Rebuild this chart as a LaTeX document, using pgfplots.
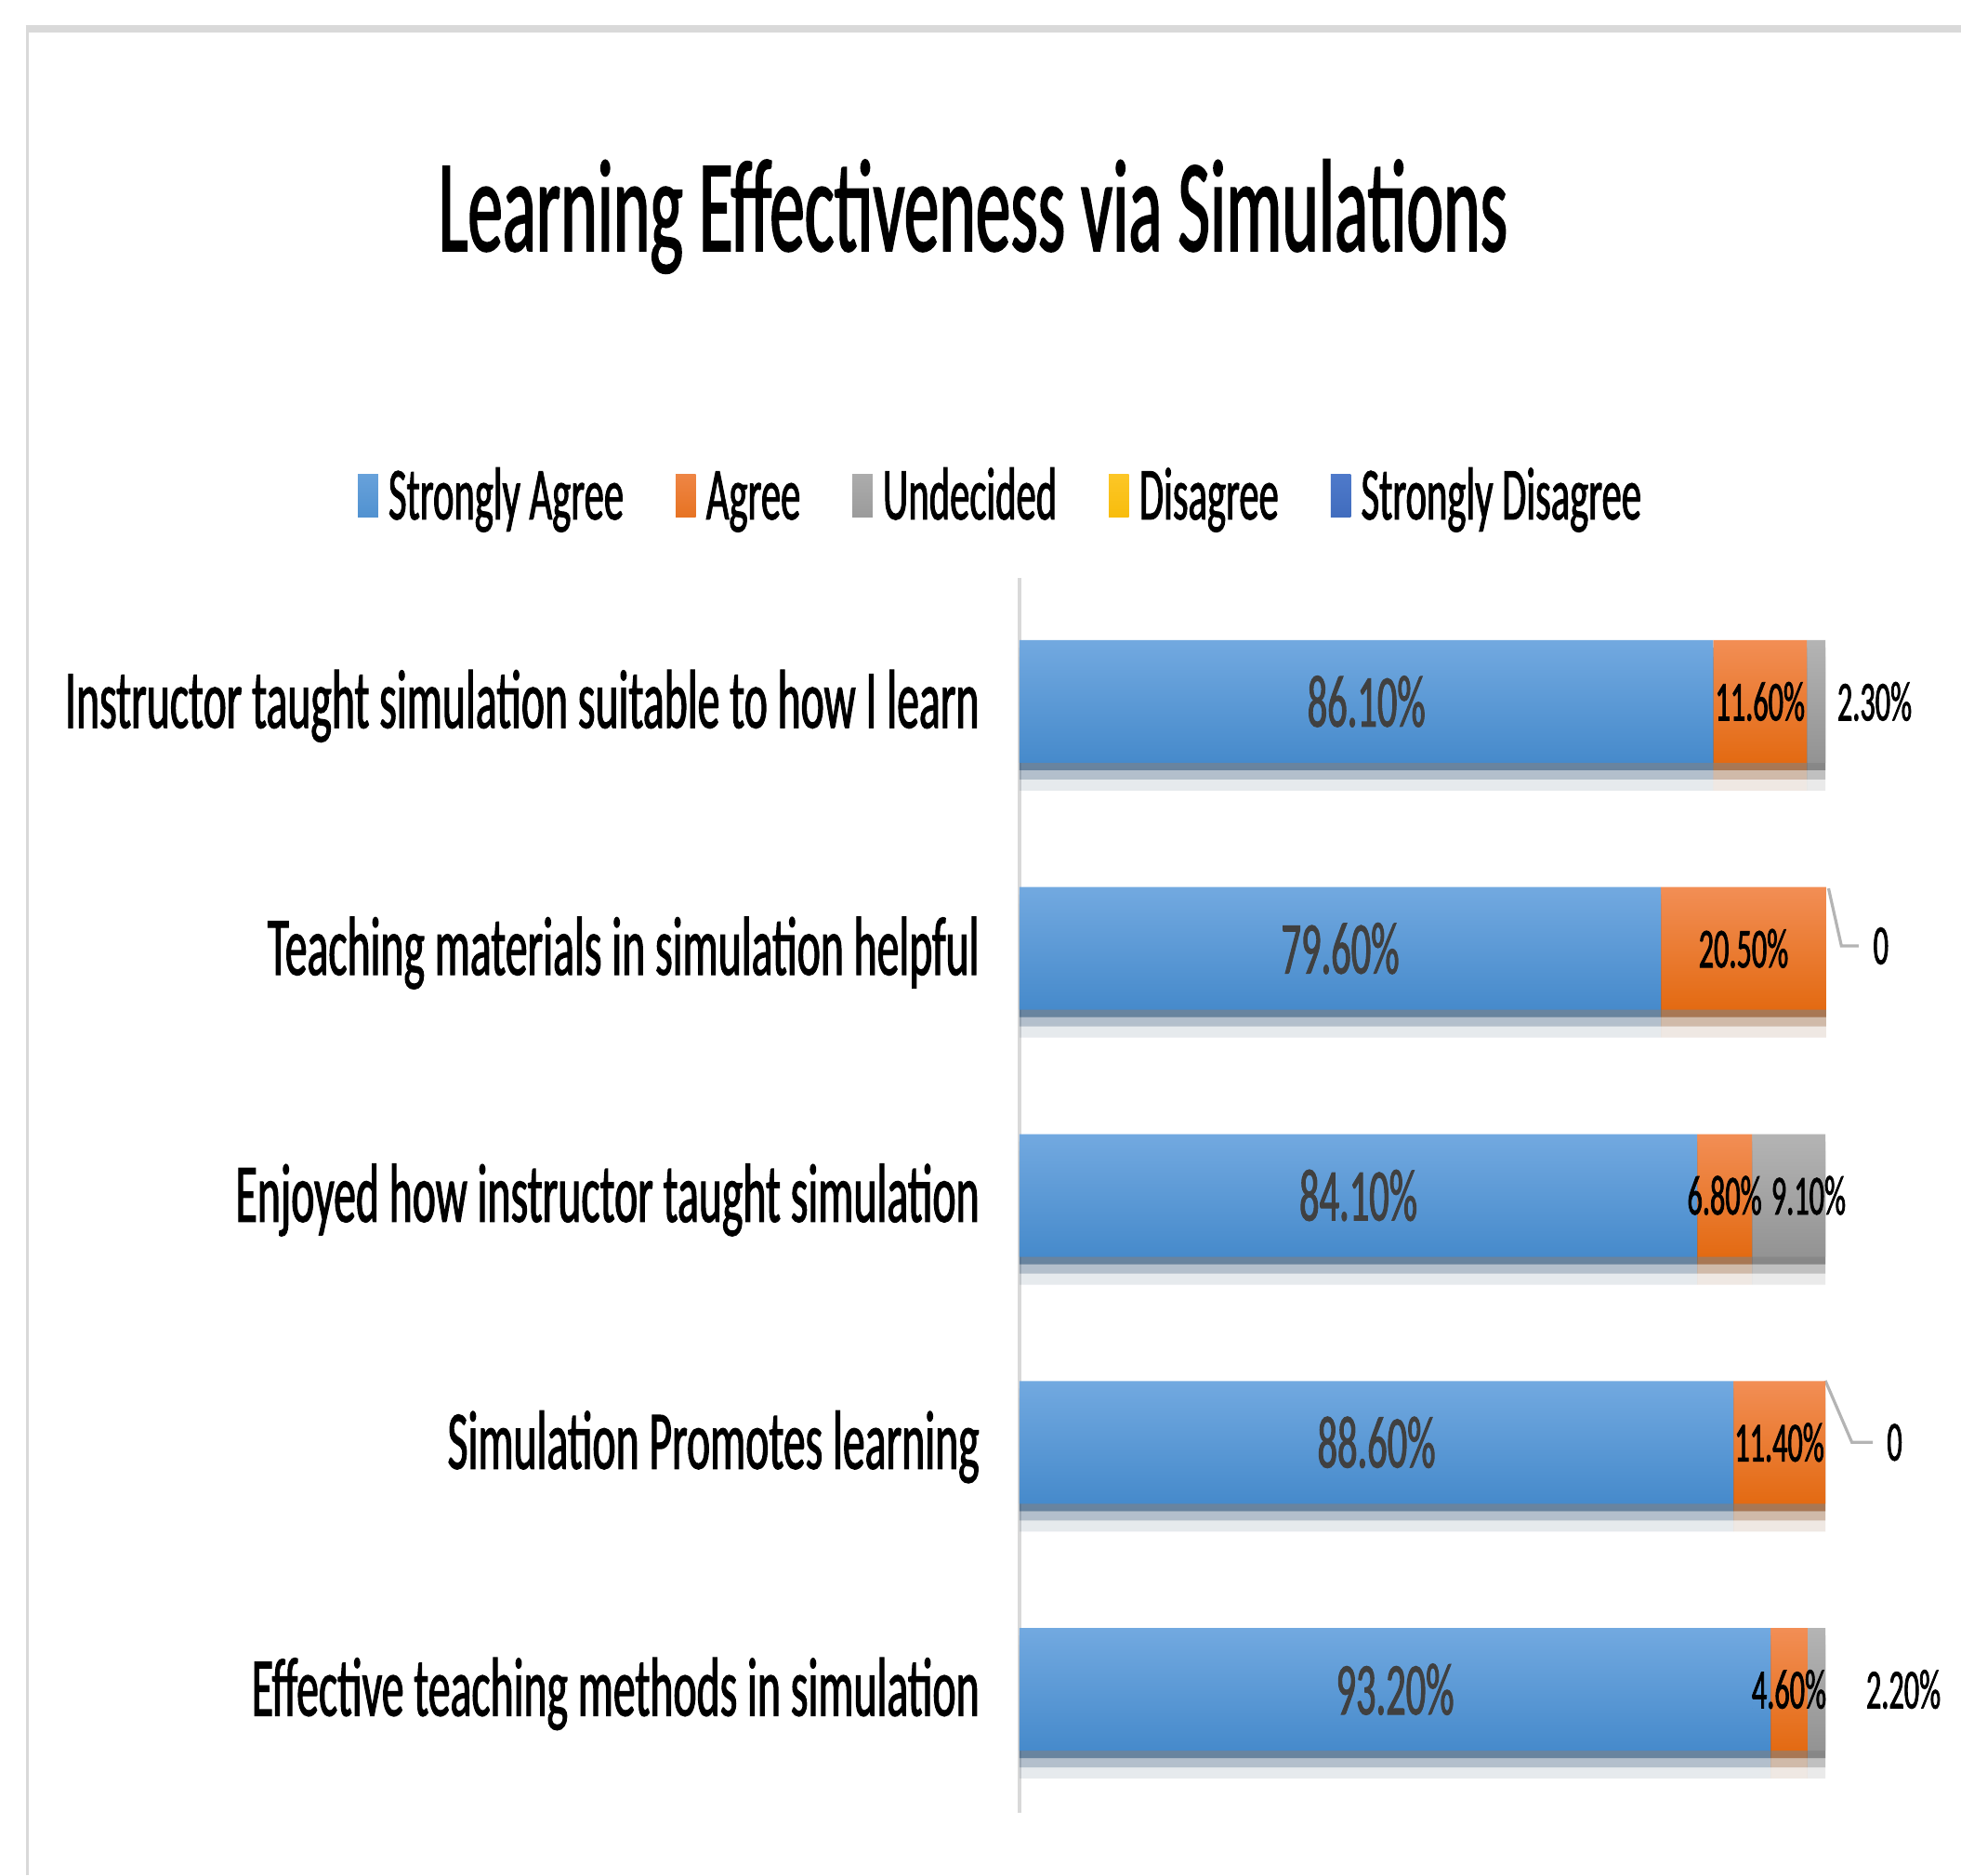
\documentclass[border=0pt]{standalone}
\usepackage{pgfplots}
\pgfplotsset{compat=1.18}
\usepackage{pgfplotstable}
\usepackage{fontspec}
\setmainfont{Carlito}[FakeStretch=0.53, FakeBold=1.2]
\definecolor{saT}{HTML}{72A9E0}
\definecolor{saB}{HTML}{468ACB}
\definecolor{agT}{HTML}{F28E55}
\definecolor{agB}{HTML}{E36A12}
\definecolor{unT}{HTML}{B4B4B4}
\definecolor{unB}{HTML}{939393}
\definecolor{diT}{HTML}{FFCB33}
\definecolor{diB}{HTML}{F5B800}
\definecolor{sdT}{HTML}{5580D0}
\definecolor{sdB}{HTML}{3A66B8}
\definecolor{labgray}{HTML}{404040}
\definecolor{axgray}{HTML}{D9D9D9}

% legend keys
\pgfdeclareverticalshading{kSA}{100bp}{color(0bp)=(saB); color(100bp)=(saT)}
\pgfdeclareverticalshading{kA}{100bp}{color(0bp)=(agB); color(100bp)=(agT)}
\pgfdeclareverticalshading{kU}{100bp}{color(0bp)=(unB); color(100bp)=(unT)}
\pgfdeclareverticalshading{kD}{100bp}{color(0bp)=(diB); color(100bp)=(diT)}
\pgfdeclareverticalshading{kSD}{100bp}{color(0bp)=(sdB); color(100bp)=(sdT)}
% one gradient per bar (five bars spread over the central 50bp of the shading)
\newcommand\barshading[3]{\pgfdeclareverticalshading{#1}{100bp}{color(0bp)=(#2); color(25bp)=(#2); color(30.52bp)=(#3);
  color(36.12bp)=(#2); color(41.64bp)=(#3); color(47.24bp)=(#2); color(52.76bp)=(#3);
  color(58.36bp)=(#2); color(63.88bp)=(#3); color(69.48bp)=(#2); color(75bp)=(#3); color(100bp)=(#3)}}
\barshading{bSA}{saB}{saT}
\barshading{bA}{agB}{agT}
\barshading{bU}{unB}{unT}

% label moved from the segment centre: #1 = dx (pt), #2 = dy (pt), #3 = text
\protected\def\Lo#1#2#3{\raisebox{#2pt}{\makebox[0pt]{\hspace*{2\dimexpr#1pt\relax}#3}}}

\pgfplotstableread{
y x lab
4 86.1 86.10\%
3 79.6 79.60\%
2 84.1 84.10\%
1 88.6 88.60\%
0 93.2 93.20\%
}\tblSA
\pgfplotstableread{
y x lab
4 11.6 11.60\%
3 20.5 20.50\%
2 6.8 6.80\%
1 11.4 11.40\%
0 4.6 4.60\%
}\tblA
\pgfplotstableread{
y x lab
4 2.3 \Lo{15.75}{0}{2.30\%}
3 0 \relax
2 9.1 \Lo{5.35}{0}{9.10\%}
1 0 \relax
0 2.2 \Lo{23.4}{-9.6}{2.20\%}
}\tblU
\pgfplotstableread{
y x
4 0
3 0
2 0
1 0
0 0
}\tblD
\pgfplotstableread{
y x
4 0
3 0
2 0
1 0
0 0
}\tblSD

\pgfplotsset{
  barshadow/.style={
    preaction={fill=black, fill opacity=0.06, transform canvas={yshift=-7.5pt}},
    preaction={fill=black, fill opacity=0.14, transform canvas={yshift=-4.5pt}},
    preaction={fill=black, fill opacity=0.32, transform canvas={yshift=-2pt}},
  },
  seglabels/.style={
    point meta=explicit symbolic,
    nodes near coords={\pgfplotspointmeta},
    every node near coord/.append style={anchor=center, inner sep=0pt},
  },
  keyimg/.style={legend image code/.code={%
    \pgfpathrectangle{\pgfpoint{0pt}{-5.65pt}}{\pgfpoint{5.4pt}{11.3pt}}%
    \pgfshadepath{#1}{0}\pgfusepath{discard}}},
}

\begin{document}
\begin{tikzpicture}
\useasboundingbox (0pt,0pt) rectangle (527.5pt,504.5pt);
\fill[white] (0pt,0pt) rectangle (527.5pt,504.5pt);
\draw[axgray, line width=2pt] (6.9pt,496.75pt) -- (527.5pt,496.75pt);
\draw[axgray, line width=0.75pt] (7.25pt,0pt) -- (7.25pt,497.75pt);
\node[anchor=base, font=\fontsize{35.5}{40}\selectfont, text=black, inner sep=0pt] at (261.75pt,437pt) {Learning Effectiveness via Simulations};
\begin{axis}[
  at={(274.25pt,16.75pt)}, anchor=south west,
  scale only axis, width=216.75pt, height=332.25pt,
  xbar stacked, bar width=33pt,
  xmin=0, xmax=100, ymin=-0.5, ymax=4.5,
  enlargelimits=false,
  clip=false,
  axis x line=none, axis y line*=left,
  y axis line style={draw=axgray, line width=1pt},
  xtick=\empty,
  ytick={0,1,2,3,4},
  yticklabels={Effective teaching methods in simulation, Simulation Promotes learning, Enjoyed how instructor taught simulation, Teaching materials in simulation helpful, Instructor taught simulation suitable to how I learn},
  major tick length=0pt,
  yticklabel style={font=\fontsize{22.5}{27}\selectfont, text=black, anchor=base east, inner sep=0pt, xshift=-10.6pt, yshift=-7.1pt},
  legend columns=-1,
  legend cell align=left,
  legend style={at={(-0.821,1.0666)}, anchor=west, draw=none, fill=none, inner sep=0pt, outer sep=0pt,
    font=\fontsize{20.1}{24}\selectfont, text=black,
    nodes={inner sep=0pt, text height=12.7pt, text depth=0pt},
    /tikz/every odd column/.append style={column sep=2.8pt},
    /tikz/every even column/.append style={column sep=14pt}},
]
\addplot[draw=none, shade, shading=bSA, barshadow, seglabels,
  every node near coord/.append style={font=\fontsize{20}{24}\selectfont, text=labgray},
  keyimg=kSA] table[x=x,y=y,meta=lab]{\tblSA};
\addlegendentry{Strongly Agree}
\addplot[draw=none, shade, shading=bA, barshadow, seglabels,
  every node near coord/.append style={font=\fontsize{15.2}{18}\selectfont, text=black},
  keyimg=kA] table[x=x,y=y,meta=lab]{\tblA};
\addlegendentry{Agree}
\addplot[draw=none, shade, shading=bU, barshadow, seglabels,
  every node near coord/.append style={font=\fontsize{15.2}{18}\selectfont, text=black},
  keyimg=kU] table[x=x,y=y,meta=lab]{\tblU};
\addlegendentry{Undecided}
\addplot[draw=none, fill=diB, keyimg=kD] table[x=x,y=y]{\tblD};
\addlegendentry{Disagree}
\addplot[draw=none, fill=sdB, keyimg=kSD] table[x=x,y=y]{\tblSD};
\addlegendentry{Strongly Disagree}
\draw[unT, line width=0.8pt] (axis cs:100.4,3.243) -- (axis cs:102.0,3.01) -- (axis cs:104.15,3.01)
  node[anchor=center, inner sep=0pt, text=black, font=\fontsize{15.2}{18}\selectfont] at (axis cs:106.9,3.01) {0};
\draw[unT, line width=0.8pt] (axis cs:100,1.25) -- (axis cs:103.3,1.0) -- (axis cs:105.9,1.0)
  node[anchor=center, inner sep=0pt, text=black, font=\fontsize{15.2}{18}\selectfont] at (axis cs:108.6,1.0) {0};
\end{axis}
\end{tikzpicture}
\end{document}
